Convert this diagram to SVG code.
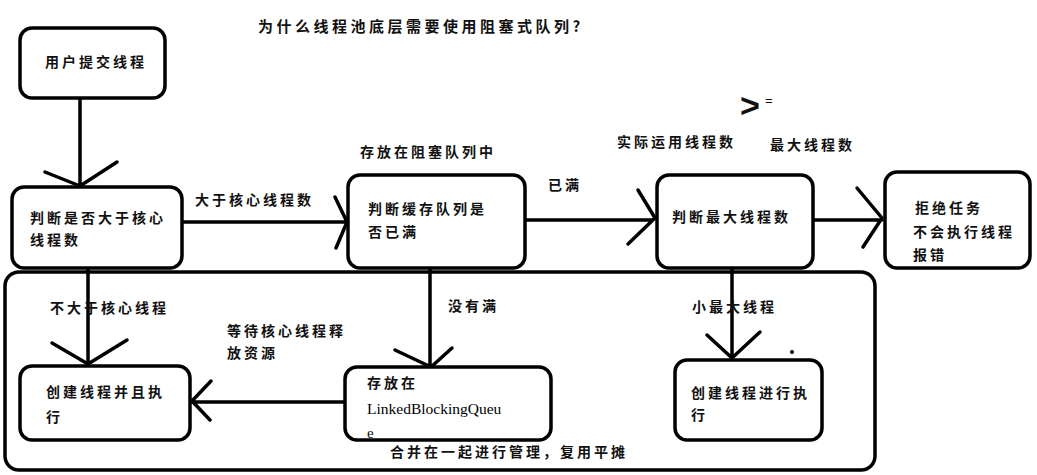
<svg xmlns="http://www.w3.org/2000/svg" width="1037" height="475" viewBox="0 0 1037 475">
<style>
.box{fill:#fff;stroke:#000;stroke-width:3.5}
.ln{fill:none;stroke:#000;stroke-width:3.5;stroke-linecap:round;stroke-linejoin:round}
text{font-family:"Noto Sans CJK SC","Liberation Serif",sans-serif;font-size:14px;font-weight:bold;letter-spacing:3px;fill:#111}
.lat{font-family:"Liberation Serif",serif;font-weight:normal;letter-spacing:0;font-size:15px}
.title{font-size:15px;letter-spacing:3.5px}
</style>
<rect width="1037" height="475" fill="#fff"/>
<text class="title" x="258" y="32">为什么线程池底层需要使用阻塞式队列?</text>
<g id="container"><rect class="box" x="5" y="272" width="870" height="198" rx="14" fill="none"/></g>
<g id="connectors">
<path class="ln" d="M80,98 L80,185 M45,172 L80,186 L117,162"/>
<path class="ln" d="M182,222 L345,222 M335,197 L347,222 L336,248"/>
<path class="ln" d="M525,220 L652,220 M638,190 L655,218 L628,244"/>
<path class="ln" d="M813,220 L882,220 M857,188 L882,218 L863,247"/>
<path class="ln" d="M88,268 L88,362 M52,343 L88,364 L127,340"/>
<path class="ln" d="M345,402 L192,402 M211,381 L192,401 L210,420"/>
<path class="ln" d="M430,268 L430,365 M395,350 L431,367 L452,348"/>
<path class="ln" d="M732,268 L732,357 M707,335 L732,358 L760,332"/>
</g>
<g id="labels">
<text x="195" y="205">大于核心线程数</text>
<text x="360" y="157">存放在阻塞队列中</text>
<text x="548" y="190">已满</text>
<text x="617" y="147">实际运用线程数</text>
<text x="770" y="150">最大线程数</text>
<text x="740" y="117" style="font-family:'Liberation Sans',sans-serif;font-size:34px;font-weight:bold;letter-spacing:0">&gt;</text>
<text x="765" y="105" style="font-family:'Liberation Sans',sans-serif;font-size:13px;font-weight:normal;letter-spacing:0">=</text>
<text x="50" y="313">不大于核心线程</text>
<text x="227" y="336">等待核心线程释</text>
<text x="227" y="358">放资源</text>
<text x="448" y="311">没有满</text>
<text x="692" y="312">小最大线程</text>
<text x="390" y="457">合并在一起进行管理，复用平摊</text>
<circle cx="792" cy="352" r="2" fill="#000"/>
</g>
<g id="node-submit"><rect class="box" x="20" y="28" width="145" height="70" rx="12"/><text x="45" y="67">用户提交线程</text></g>
<g id="node-core"><rect class="box" x="12" y="187" width="170" height="81" rx="12"/><text x="30" y="223">判断是否大于核心</text><text x="30" y="245">线程数</text></g>
<g id="node-queue"><rect class="box" x="348" y="175" width="177" height="93" rx="12"/><text x="368" y="214">判断缓存队列是</text><text x="368" y="237">否已满</text></g>
<g id="node-max"><rect class="box" x="657" y="175" width="156" height="93" rx="12"/><text x="672" y="222">判断最大线程数</text></g>
<g id="node-reject"><rect class="box" x="885" y="172" width="145" height="96" rx="12"/><text x="915" y="213">拒绝任务</text><text x="913" y="237">不会执行线程</text><text x="913" y="260">报错</text></g>
<g id="node-create1"><rect class="box" x="20" y="366" width="170" height="74" rx="12"/><text x="46" y="397">创建线程并且执</text><text x="46" y="422">行</text></g>
<g id="node-lbq"><rect class="box" x="345" y="367" width="206" height="73" rx="12"/><text x="367" y="388">存放在</text><text class="lat" x="367" y="414" style="font-size:15.5px;fill:#000">LinkedBlockingQueu</text><text class="lat" x="367" y="438">e</text></g>
<g id="node-create2"><rect class="box" x="675" y="360" width="147" height="80" rx="12"/><text x="691" y="398">创建线程进行执</text><text x="691" y="420">行</text></g>
</svg>
